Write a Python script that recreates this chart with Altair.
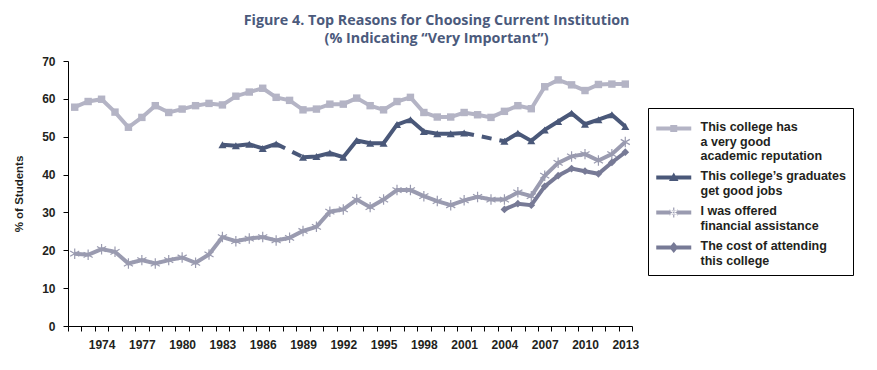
import math
import altair as alt
import pandas as pd

# ---------------- data ----------------
years = list(range(1972, 2014))

reputation = [57.8, 59.3, 59.9, 56.5, 52.5, 55.1, 58.2, 56.4, 57.3, 58.2,
              58.8, 58.4, 60.7, 61.8, 62.8, 60.4, 59.6, 57.1, 57.3, 58.6,
              58.6, 60.2, 58.2, 57.1, 59.3, 60.4, 56.4, 55.2, 55.2, 56.4,
              55.8, 55.1, 56.7, 58.2, 57.4, 63.2, 65.0, 63.7, 62.2, 63.8,
              63.9, 63.9]

jobs = [None, None, None, None, None, None, None, None, None, None,
        None, 47.9, 47.6, 48.0, 46.9, 48.1, None, 44.6, 44.8, 45.7,
        44.6, 49.0, 48.3, 48.3, 53.2, 54.5, 51.4, 50.8, 50.8, 51.0,
        None, None, 48.8, 50.9, 48.9, 51.8, 54.0, 56.2, 53.3, 54.5,
        55.8, 52.7]

financial = [19.1, 18.8, 20.3, 19.6, 16.5, 17.4, 16.5, 17.4, 18.1, 16.7,
             18.9, 23.5, 22.4, 23.1, 23.5, 22.6, 23.3, 25.1, 26.2, 30.2,
             30.8, 33.4, 31.4, 33.4, 35.9, 35.9, 34.3, 33.0, 31.9, 33.2,
             34.1, 33.4, 33.4, 35.3, 34.3, 39.7, 43.1, 44.8, 45.4, 43.7,
             45.4, 48.6]

cost = [None, None, None, None, None, None, None, None, None, None,
        None, None, None, None, None, None, None, None, None, None,
        None, None, None, None, None, None, None, None, None, None,
        None, None, 30.8, 32.3, 31.9, 36.9, 39.7, 41.6, 40.9, 40.2,
        43.2, 45.9]

series_labels = [
    "This college has|a very good|academic reputation",
    "This college\u2019s graduates|get good jobs",
    "I was offered|financial assistance",
    "The cost of attending|this college",
]
series_values = [reputation, jobs, financial, cost]

y_ticks = [0, 10, 20, 30, 40, 50, 60, 70]
first_label_year = 1974
label_step = 3

title_lines = ["Figure 4. Top Reasons for Choosing Current Institution",
               "(% Indicating \u201cVery Important\u201d)"]

# ---------------- styles ----------------
colors = ["#b4b4c5", "#4a5879", "#9a9bb0", "#777a96"]
FONT = "Liberation Sans"
TXT = "#231f20"

# legend symbol geometry (unit = sqrt(size)/2 = 5px)
SYM_SIZE = 100
CX, CY = 2.5, 1.45   # marker centre in units


def poly(pts):
    return "M" + "L".join(f"{x:.3f},{y:.3f}" for x, y in pts) + "Z"


def asterisk_path(r, w):
    parts = []
    for ang in (90, 30, -30):
        a = math.radians(ang)
        dx, dy = math.cos(a), -math.sin(a)
        px, py = -dy * w, dx * w
        pts = [(CX + dx * r + px, CY + dy * r + py), (CX + dx * r - px, CY + dy * r - py),
               (CX - dx * r - px, CY - dy * r - py), (CX - dx * r + px, CY - dy * r + py)]
        parts.append(poly(pts))
    return "".join(parts)


bar = poly([(-1, CY - 0.4), (6, CY - 0.4), (6, CY + 0.4), (-1, CY + 0.4)])
legend_paths = [
    bar + poly([(CX - 0.7, CY - 0.7), (CX + 0.7, CY - 0.7), (CX + 0.7, CY + 0.7), (CX - 0.7, CY + 0.7)]),
    bar + poly([(CX, CY - 1.0), (CX + 0.95, CY + 0.7), (CX - 0.95, CY + 0.7)]),
    bar + asterisk_path(1.0, 0.12),
    bar + poly([(CX, CY - 1.1), (CX + 0.9, CY), (CX, CY + 1.1), (CX - 0.9, CY)]),
]
point_styles = [
    dict(shape="square", size=55, filled=True),
    dict(shape="triangle-up", size=65, filled=True),
    dict(shape="M0,-1L0,1M-0.87,-0.5L0.87,0.5M-0.87,0.5L0.87,-0.5",
         size=110, filled=False, strokeWidth=1.2),
    dict(shape="diamond", size=60, filled=True),
]

# ---------------- tables ----------------
solid_rows, dash_rows, point_rows, all_rows = [], [], [], []
for name, vals in zip(series_labels, series_values):
    seg = -1
    prev_valid = None
    in_run = False
    for yr, v in zip(years, vals):
        all_rows.append({"year": yr, "series": name, "pct": v})
        if v is None:
            in_run = False
            continue
        point_rows.append({"year": yr, "series": name, "pct": v})
        if not in_run:
            seg += 1
            in_run = True
            if prev_valid is not None and prev_valid[0] != yr - 1:
                dash_rows.append({"year": prev_valid[0], "series": name,
                                  "pct": prev_valid[1], "gap": seg})
                dash_rows.append({"year": yr, "series": name, "pct": v, "gap": seg})
        solid_rows.append({"year": yr, "series": name, "pct": v, "seg": seg})
        prev_valid = (yr, v)

solid_df = pd.DataFrame(solid_rows)
dash_df = pd.DataFrame(dash_rows)
point_df = pd.DataFrame(point_rows)
all_df = pd.DataFrame(all_rows)

label_expr = (f"(+datum.value - {first_label_year}) % {label_step} == 0 "
              f"&& +datum.value >= {first_label_year} ? datum.label : ''")

x_enc = alt.X(
    "year:O",
    scale=alt.Scale(type="band", domain=years, paddingInner=0, paddingOuter=0),
    axis=alt.Axis(title=None, labelExpr=label_expr, tickBand="extent",
                  labelAngle=0, labelOverlap=False, tickSize=5,
                  labelPadding=8, grid=False),
)
y_enc = alt.Y(
    "pct:Q",
    scale=alt.Scale(domain=[0, 70], nice=False, zero=True),
    axis=alt.Axis(values=y_ticks, title="% of Students", tickSize=5,
                  labelPadding=8, titlePadding=17, grid=False),
)

layers = []
for i, name in enumerate(series_labels):
    c = colors[i]
    s = solid_df[solid_df.series == name]
    layers.append(alt.Chart(s).mark_line(color=c, strokeWidth=4).encode(
        x=x_enc, y=y_enc, detail="seg:N"))
    if len(dash_df) and (dash_df.series == name).any():
        d = dash_df[dash_df.series == name]
        layers.append(alt.Chart(d).mark_line(color=c, strokeWidth=4,
                                             strokeDash=[10, 8]).encode(
            x=x_enc, y=y_enc, detail="gap:N"))
    p = point_df[point_df.series == name]
    st = point_styles[i]
    if st["filled"]:
        pm = alt.Chart(p).mark_point(shape=st["shape"], size=st["size"],
                                     filled=True, color=c, opacity=1)
    else:
        pm = alt.Chart(p).mark_point(shape=st["shape"], size=st["size"],
                                     filled=False, stroke=c, opacity=1,
                                     strokeWidth=st["strokeWidth"])
    layers.append(pm.encode(x=x_enc, y=y_enc))

legend_kw = dict(
    title=None, orient="none", legendX=580, legendY=47,
    strokeColor="black", fillColor="white", padding=7,
    symbolSize=SYM_SIZE, symbolStrokeWidth=0, symbolOpacity=1,
    labelExpr="split(datum.label, '|')", labelFont=FONT,
    labelFontSize=12.5, labelFontWeight="bold", labelColor=TXT,
    labelLimit=300, labelOffset=33, rowPadding=1, labelBaseline="top",
)
legend_layer = alt.Chart(all_df).transform_filter("datum.pct < -1").mark_point(
    filled=True, opacity=1).encode(
    x=x_enc, y=y_enc,
    color=alt.Color("series:N", scale=alt.Scale(domain=series_labels, range=colors),
                    legend=alt.Legend(**legend_kw)),
    shape=alt.Shape("series:N", scale=alt.Scale(domain=series_labels, range=legend_paths),
                    legend=alt.Legend(**legend_kw)),
)
layers.append(legend_layer)

chart = alt.layer(*layers).properties(
    width=564, height=265,
    title=alt.Title(title_lines, font="Open Sans", fontSize=14.3, fontWeight="bold",
                    color="#4b5a7c", anchor="middle", frame="bounds",
                    lineHeight=18, offset=9, dx=3),
).configure_view(strokeWidth=0).configure_axis(
    labelFont=FONT, labelFontSize=12, labelFontWeight="bold", labelColor=TXT,
    titleFont=FONT, titleFontSize=11.5, titleFontWeight="bold", titleColor=TXT,
    domainColor="black", tickColor="black", domainWidth=1, tickWidth=1,
)

chart.save("out.html", embed_options={"renderer": "svg", "actions": False})
